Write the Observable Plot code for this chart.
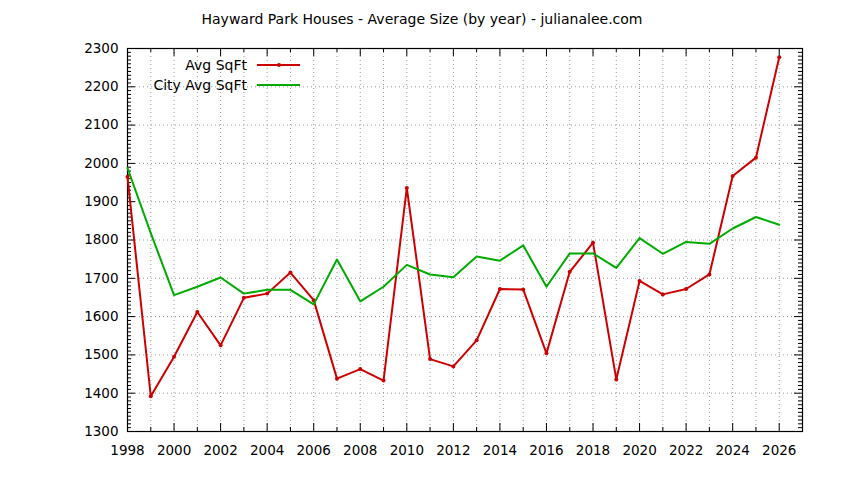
<!DOCTYPE html>
<html>
<head>
<meta charset="utf-8">
<script src="https://cdn.jsdelivr.net/npm/d3@7"></script>
<script src="https://cdn.jsdelivr.net/npm/@observablehq/plot@0.6"></script>
<style>
  html, body { margin: 0; padding: 0; background: #fff; }
  #chart svg { display: block; }
</style>
</head>
<body>
<div id="chart"></div>
<script>
const title = "Hayward Park Houses - Average Size (by year) - julianalee.com";
const seriesNames = ["Avg SqFt", "City Avg SqFt"];
const years = [1998,1999,2000,2001,2002,2003,2004,2005,2006,2007,2008,2009,2010,2011,2012,2013,2014,2015,2016,2017,2018,2019,2020,2021,2022,2023,2024,2025,2026];
const avgSqFt = [1965,1392,1495,1612,1525,1649,1660,1715,1643,1438,1463,1433,1936,1489,1470,1538,1672,1671,1504,1717,1793,1436,1693,1658,1672,1710,1967,2015,2277];
const cityAvgSqFt = [1988,1818,1656,1678,1702,1660,1670,1670,1632,1749,1640,1678,1735,1710,1703,1757,1746,1786,1678,1765,1765,1727,1805,1764,1795,1790,1830,1860,1840];
const xTickLabels = [1998,2000,2002,2004,2006,2008,2010,2012,2014,2016,2018,2020,2022,2024,2026];
const xMinorTicks = [1999,2001,2003,2005,2007,2009,2011,2013,2015,2017,2019,2021,2023,2025,2027];
const yTickLabels = [1300,1400,1500,1600,1700,1800,1900,2000,2100,2200,2300];
const yMinorTicks = d3.range(1300, 2301, 10).filter(v => v % 100 !== 0);
const gridYears = d3.range(1999, 2027);

const colors = ["#cc0000", "#00aa00"];
const W = 844, H = 480;
const mL = 127, mR = 42, mT = 48, mB = 49;
const pw = W - mL - mR, ph = H - mT - mB;

const avgData = years.map((y, i) => ({year: y, value: avgSqFt[i]}));
const cityData = years.map((y, i) => ({year: y, value: cityAvgSqFt[i]}));

const font = "DejaVu Sans, sans-serif";

const plot = Plot.plot({
  width: W, height: H,
  marginLeft: mL, marginRight: mR, marginTop: mT, marginBottom: mB,
  style: {fontFamily: font, fontSize: "13px", background: "#fff", color: "#000"},
  x: {domain: [1998, 2027]},
  y: {domain: [1300, 2300]},
  marks: [
    Plot.ruleX(gridYears, {x: d => d, stroke: "#999", strokeWidth: 1, strokeDasharray: "1,3"}),
    Plot.ruleY(yTickLabels.slice(1, -1), {y: d => d, stroke: "#999", strokeWidth: 1, strokeDasharray: "1,3"}),
    Plot.ruleY(yTickLabels, {y: d => d, insetRight: pw - 8, stroke: "#000"}),
    Plot.ruleY(yMinorTicks, {y: d => d, insetRight: pw - 4, stroke: "#000"}),
    Plot.ruleY(yTickLabels, {y: d => d, insetLeft: pw - 8, stroke: "#000"}),
    Plot.ruleY(yMinorTicks, {y: d => d, insetLeft: pw - 4, stroke: "#000"}),
    Plot.ruleX(xTickLabels, {x: d => d, insetTop: ph - 8, stroke: "#000"}),
    Plot.ruleX(xMinorTicks, {x: d => d, insetTop: ph - 4, stroke: "#000"}),
    Plot.ruleX(xTickLabels, {x: d => d, insetBottom: ph - 8, stroke: "#000"}),
    Plot.ruleX(xMinorTicks, {x: d => d, insetBottom: ph - 4, stroke: "#000"}),
    Plot.axisX(xTickLabels, {tickSize: 0, tickPadding: 14, tickFormat: d => String(d), label: null, fontSize: 13.5}),
    Plot.axisY(yTickLabels, {tickSize: 0, tickPadding: 9, tickFormat: d => String(d), label: null, fontSize: 13.5}),
    Plot.frame({stroke: "#000", strokeWidth: 1.2}),
    Plot.line(avgData, {x: "year", y: "value", stroke: colors[0], strokeWidth: 2}),
    Plot.dot(avgData, {x: "year", y: "value", fill: colors[0], r: 2}),
    Plot.line(cityData, {x: "year", y: "value", stroke: colors[1], strokeWidth: 2})
  ]
});

document.getElementById("chart").appendChild(plot);

const svg = d3.select(plot);
svg.append("text")
  .attr("x", 422).attr("y", 19)
  .attr("text-anchor", "middle").attr("dominant-baseline", "central")
  .attr("font-family", font).attr("font-size", 14).attr("fill", "#000")
  .text(title);

const legend = svg.append("g");
seriesNames.forEach((name, i) => {
  const ly = 65 + i * 20;
  legend.append("text")
    .attr("x", 247).attr("y", ly)
    .attr("text-anchor", "end").attr("dominant-baseline", "central")
    .attr("font-family", font).attr("font-size", 14).attr("fill", "#000")
    .text(name);
  legend.append("line")
    .attr("x1", 257).attr("x2", 300).attr("y1", ly).attr("y2", ly)
    .attr("stroke", colors[i]).attr("stroke-width", 2);
  if (i === 0) {
    legend.append("circle").attr("cx", 279).attr("cy", ly).attr("r", 2).attr("fill", colors[i]);
  }
});
</script>
</body>
</html>
